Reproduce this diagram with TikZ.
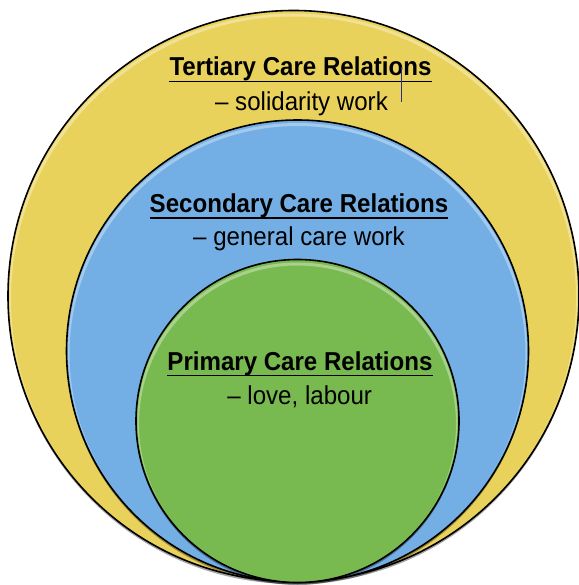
\documentclass[tikz,border=0pt]{standalone}
\usepackage{fontspec}
\setmainfont{Liberation Sans}
\newfontfamily\narrowfont[FakeStretch=0.93]{Liberation Sans}
\definecolor{ringY}{RGB}{232,210,92}
\definecolor{ringB}{RGB}{115,175,228}
\definecolor{ringG}{RGB}{120,185,80}
\definecolor{cursorC}{RGB}{40,50,140}
\tikzset{
  ring/.style={draw=black,line width=1.6bp},
  hilite/.style={line width=3bp,opacity=0.35},
  ttl/.style={font=\narrowfont\fontsize{26}{30}\selectfont\bfseries,inner sep=0pt,anchor=base},
  sub/.style={font=\narrowfont\fontsize{26}{30}\selectfont,inner sep=0pt,anchor=base},
  uline/.style={line width=1.9bp}
}
\begin{document}
\begin{tikzpicture}[x=1bp,y=-1bp]
\useasboundingbox (0,0) rectangle (579,585);
% outer
\fill[black,opacity=0.35] (293.5,298.5) circle[radius=285.5];
\filldraw[ring,fill=ringY] (293.5,296) circle[radius=285.5];
\begin{scope}
\clip (293.5,296) circle[radius=284];
\draw[hilite,white] (293.5,299) circle[radius=284];
\end{scope}
% middle
\fill[black,opacity=0.35] (297.5,353.5) circle[radius=231];
\filldraw[ring,fill=ringB] (297.5,351) circle[radius=231];
\begin{scope}
\clip (297.5,351) circle[radius=229.5];
\draw[hilite,white] (297.5,354) circle[radius=229.5];
\end{scope}
% inner
\fill[black,opacity=0.35] (297.5,423.5) circle[radius=161.5];
\filldraw[ring,fill=ringG] (297.5,421) circle[radius=161.5];
\begin{scope}
\clip (297.5,421) circle[radius=160];
\draw[hilite,white] (297.5,424) circle[radius=160];
\end{scope}
% texts
\node[ttl] (t1) at (300.5,76) {Tertiary Care Relations};
\draw[uline] ([yshift=-5.5bp]t1.base west) -- ([yshift=-5.5bp]t1.base east);
\node[sub] (s1) at (301.5,111) {– solidarity work};
\node[ttl] (t2) at (299,212.5) {Secondary Care Relations};
\draw[uline] ([yshift=-5.5bp]t2.base west) -- ([yshift=-5.5bp]t2.base east);
\node[sub] (s2) at (299,245) {– general care work};
\node[ttl] (t3) at (300,370) {Primary Care Relations};
\draw[uline] ([yshift=-5.5bp]t3.base west) -- ([yshift=-5.5bp]t3.base east);
\node[sub] (s3) at (299.7,404) {– love, labour};
% cursor artifact
\draw[cursorC,line width=0.8bp] (401,67) -- (401,102);
\end{tikzpicture}
\end{document}
